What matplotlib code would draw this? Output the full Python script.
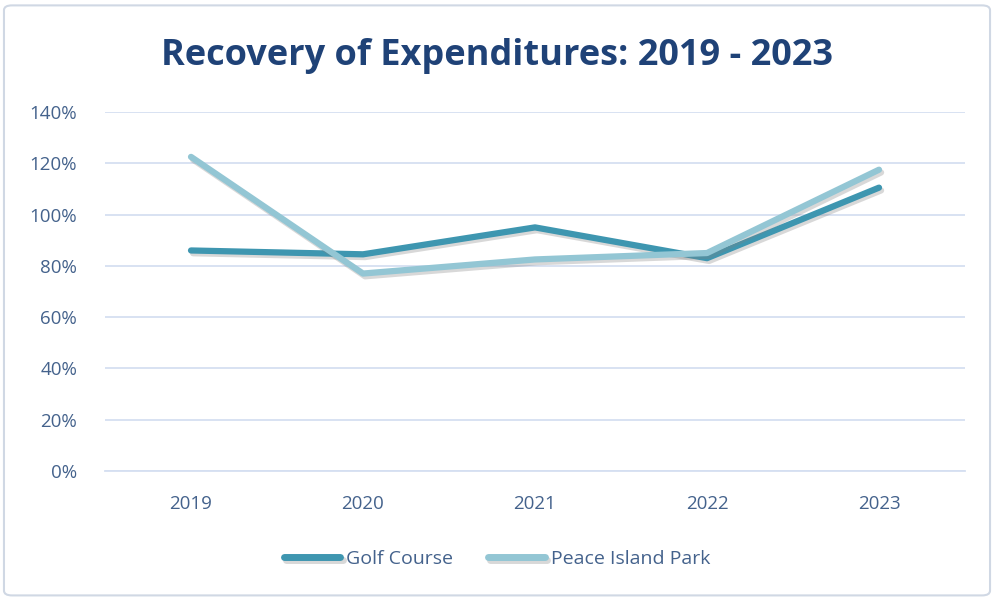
import matplotlib
matplotlib.use("Agg")
import matplotlib.pyplot as plt
import matplotlib.patheffects as pe
from matplotlib.patches import FancyBboxPatch
from matplotlib.ticker import FuncFormatter

years = ["2019", "2020", "2021", "2022", "2023"]
golf_course = [86, 84.5, 95, 83, 110.5]
peace_island = [122.5, 77, 82.5, 85, 117.5]
yticks = [0, 20, 40, 60, 80, 100, 120, 140]

plt.rcParams['font.family'] = ['Open Sans', 'DejaVu Sans']
label_color = "#44628C"
grid_color = "#D5DFF1"

fig = plt.figure(figsize=(9.94, 5.99), dpi=100)
ax = fig.add_axes([105/994, 1 - 471/599, 860/994, 359/599])

shadow = [pe.SimpleLineShadow(offset=(1.5, -2), shadow_color="gray", alpha=0.3), pe.Normal()]
x = range(len(years))
ax.plot(x, golf_course, color="#3E96B0", lw=4.5, solid_capstyle="round",
        label="Golf Course", path_effects=shadow, zorder=3)
ax.plot(x, peace_island, color="#93C6D4", lw=4.5, solid_capstyle="round",
        label="Peace Island Park", path_effects=shadow, zorder=4)

ax.set_xlim(-0.5, len(years) - 0.5)
ax.set_ylim(0, 140)
ax.set_xticks(list(x))
ax.set_xticklabels(years)
ax.set_yticks(yticks)
ax.yaxis.set_major_formatter(FuncFormatter(lambda v, p: f"{v:.0f}%"))
ax.grid(axis="y", color=grid_color, lw=1.3)
ax.set_axisbelow(True)
for s in ["top", "right", "left"]:
    ax.spines[s].set_visible(False)
ax.spines["bottom"].set_color(grid_color)
ax.spines["bottom"].set_linewidth(1.3)
ax.tick_params(length=0, labelsize=13.5, colors=label_color)
ax.tick_params(axis="x", pad=17)
ax.tick_params(axis="y", pad=20)

fig.text(0.5, 0.907, "Recovery of Expenditures: 2019 - 2023", ha="center", va="center",
         fontsize=26, fontweight="bold", color="#1F4277")

leg = fig.legend(loc="center", bbox_to_anchor=(0.5, 0.067), ncol=2, frameon=False,
                 fontsize=14, handlelength=2.9, columnspacing=1.8, handletextpad=0.3)
for t in leg.get_texts():
    t.set_color(label_color)
for h in leg.get_lines():
    h.set_linewidth(5)

border = FancyBboxPatch((0.004, 0.006), 0.992, 0.985, boxstyle="round,pad=0,rounding_size=0.008",
                        transform=fig.transFigure, fill=False, edgecolor="#D0D8E4", lw=1.5)
fig.patches.append(border)

fig.savefig("out.png", dpi=100)
